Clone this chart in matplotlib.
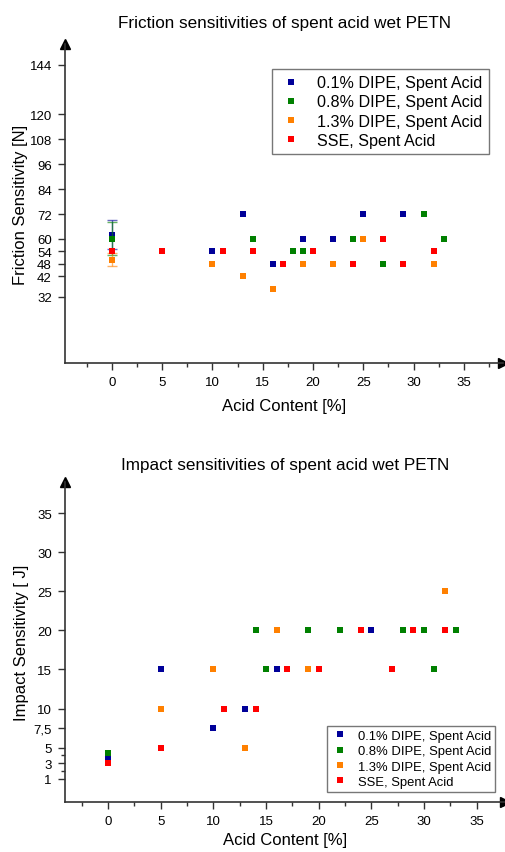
import matplotlib
matplotlib.use("Agg")
import matplotlib.pyplot as plt
from matplotlib.ticker import FixedLocator

plt.rcParams['font.family'] = ['Liberation Sans', 'DejaVu Sans']

# Friction data [N]
fr_x_01 = [0, 5, 10, 13, 16, 19, 22, 25, 29, 32]
fr_y_01 = [62, 54, 54, 72, 48, 60, 60, 72, 72, 54]
fr_x_08 = [0, 14, 18, 19, 24, 27, 31, 33]
fr_y_08 = [60, 60, 54, 54, 60, 48, 72, 60]
fr_x_13 = [0, 5, 10, 13, 16, 19, 22, 25, 29, 32]
fr_y_13 = [50, 54, 48, 42, 36, 48, 48, 60, 48, 48]
fr_x_sse = [0, 5, 11, 14, 17, 20, 24, 27, 29, 32]
fr_y_sse = [54, 54, 54, 54, 48, 54, 48, 60, 48, 54]
# error bars at 0 % acid
fr_err = {'0.1': 7, '0.8': 8, '1.3': 3}

# Impact data [J]
im_x_01 = [0, 5, 10, 13, 16, 19, 22, 25, 29, 32]
im_y_01 = [3.7, 15, 7.5, 10, 15, 20, 20, 20, 20, 20]
im_x_08 = [0, 14, 15, 19, 22, 24, 28, 30, 31, 33]
im_y_08 = [4.3, 20, 15, 20, 20, 20, 20, 20, 15, 20]
im_x_13 = [0, 5, 10, 13, 16, 19, 22, 25, 29, 32]
im_y_13 = [3, 10, 15, 5, 20, 15, 20, 20, 20, 25]
im_x_sse = [0, 5, 11, 14, 17, 20, 24, 27, 29, 32]
im_y_sse = [3, 5, 10, 10, 15, 15, 20, 15, 20, 20]

labels = ['0.1% DIPE, Spent Acid', '0.8% DIPE, Spent Acid',
          '1.3% DIPE, Spent Acid', 'SSE, Spent Acid']
colors = ['#000099', '#008000', '#ff8000', '#ff0000']

fr_ticks = [32, 42, 48, 54, 60, 72, 84, 96, 108, 120, 144]
im_ticks = [1, 3, 5, 7.5, 10, 15, 20, 25, 30, 35]
im_ticklabels = ['1', '3', '5', '7,5', '10', '15', '20', '25', '30', '35']
x_ticks = [0, 5, 10, 15, 20, 25, 30, 35]

W, H = 505, 853
fig = plt.figure(figsize=(W / 100, H / 100), dpi=100)


def style_axes(ax, xlabelpad):
    for s in ['top', 'right']:
        ax.spines[s].set_visible(False)
    for s in ['left', 'bottom']:
        ax.spines[s].set_color('#333333')
        ax.spines[s].set_linewidth(1.2)
    ax.set_xticks(x_ticks)
    ax.xaxis.set_minor_locator(FixedLocator([-2.5, 2.5, 7.5, 12.5, 17.5, 22.5, 27.5, 32.5, 37.5]))
    ax.tick_params(which='major', direction='out', length=5, width=1, color='#333333',
                   labelsize=9.5, pad=4.5)
    ax.tick_params(which='minor', direction='out', length=3, width=1, color='#333333')
    # arrow heads at axis ends
    ax.plot(1, 0, '>', color='black', markersize=7, transform=ax.transAxes, clip_on=False)
    ax.plot(0, 1, '^', color='black', markersize=7, transform=ax.transAxes, clip_on=False)
    ax.set_xlabel('Acid Content [%]', fontsize=12, labelpad=xlabelpad)


# ---------- Friction ----------
ax1 = fig.add_axes([65 / W, 1 - 364.3 / H, (503 - 65) / W, (364.3 - 45) / H])
ax1.set_xlim(-4.67, 38.9)
ax1.set_ylim(0, 154)
style_axes(ax1, 7)
ax1.set_yticks(fr_ticks)

series_fr = [(fr_x_01, fr_y_01), (fr_x_08, fr_y_08), (fr_x_13, fr_y_13), (fr_x_sse, fr_y_sse)]
errs = [fr_err['0.1'], fr_err['0.8'], fr_err['1.3'], None]
for (x, y), c, lab, e in zip(series_fr, colors, labels, errs):
    if e is not None:
        ax1.errorbar(x[0], y[0], yerr=e, fmt='none', ecolor=c, alpha=0.6,
                     elinewidth=1, capsize=3.5, capthick=1)
    ax1.plot(x, y, 's', color=c, markersize=4.5, markeredgewidth=0, label=lab, clip_on=False)

ax1.set_ylabel('Friction Sensitivity [N]', fontsize=12, labelpad=1)
ax1.set_title('Friction sensitivities of spent acid wet PETN', fontsize=12.3, pad=12)
leg1 = ax1.legend(loc='upper left', bbox_to_anchor=(272 / W, 1 - 70 / H),
                  bbox_transform=fig.transFigure, fontsize=11.6, frameon=True, fancybox=False,
                  edgecolor='#555555', markerscale=1.0, handlelength=1.5,
                  handletextpad=0.9, labelspacing=0.25, borderpad=0.4, borderaxespad=0)
leg1.get_frame().set_linewidth(1)

# ---------- Impact ----------
ax2 = fig.add_axes([65 / W, 1 - 803.3 / H, (505 - 65) / W, (803.3 - 483) / H])
ax2.set_xlim(-4.1, 37.7)
ax2.set_ylim(-2, 39)
style_axes(ax2, 3)
ax2.set_yticks(im_ticks)
ax2.set_yticklabels(im_ticklabels)
ax2.yaxis.set_minor_locator(FixedLocator([2, 4]))

series_im = [(im_x_01, im_y_01), (im_x_08, im_y_08), (im_x_13, im_y_13), (im_x_sse, im_y_sse)]
order = [2, 0, 1, 3]
for i in order:
    x, y = series_im[i]
    ax2.plot(x, y, 's', color=colors[i], markersize=4.5, markeredgewidth=0, label=labels[i],
             clip_on=False)
handles, labs = ax2.get_legend_handles_labels()
hmap = dict(zip(labs, handles))
ax2.set_ylabel('Impact Sensitivity [ J]', fontsize=12, labelpad=3)
ax2.set_title('Impact sensitivities of spent acid wet PETN', fontsize=12.3, pad=9)
leg2 = ax2.legend([hmap[l] for l in labels], labels, loc='upper left',
                  bbox_to_anchor=(326.7 / W, 1 - 726.7 / H),
                  bbox_transform=fig.transFigure, fontsize=9.4, frameon=True, fancybox=False,
                  edgecolor='#555555', handlelength=1.5, handletextpad=0.6,
                  labelspacing=0.25, borderpad=0.3, borderaxespad=0)
leg2.get_frame().set_linewidth(1)

fig.savefig('out.png', dpi=100)
